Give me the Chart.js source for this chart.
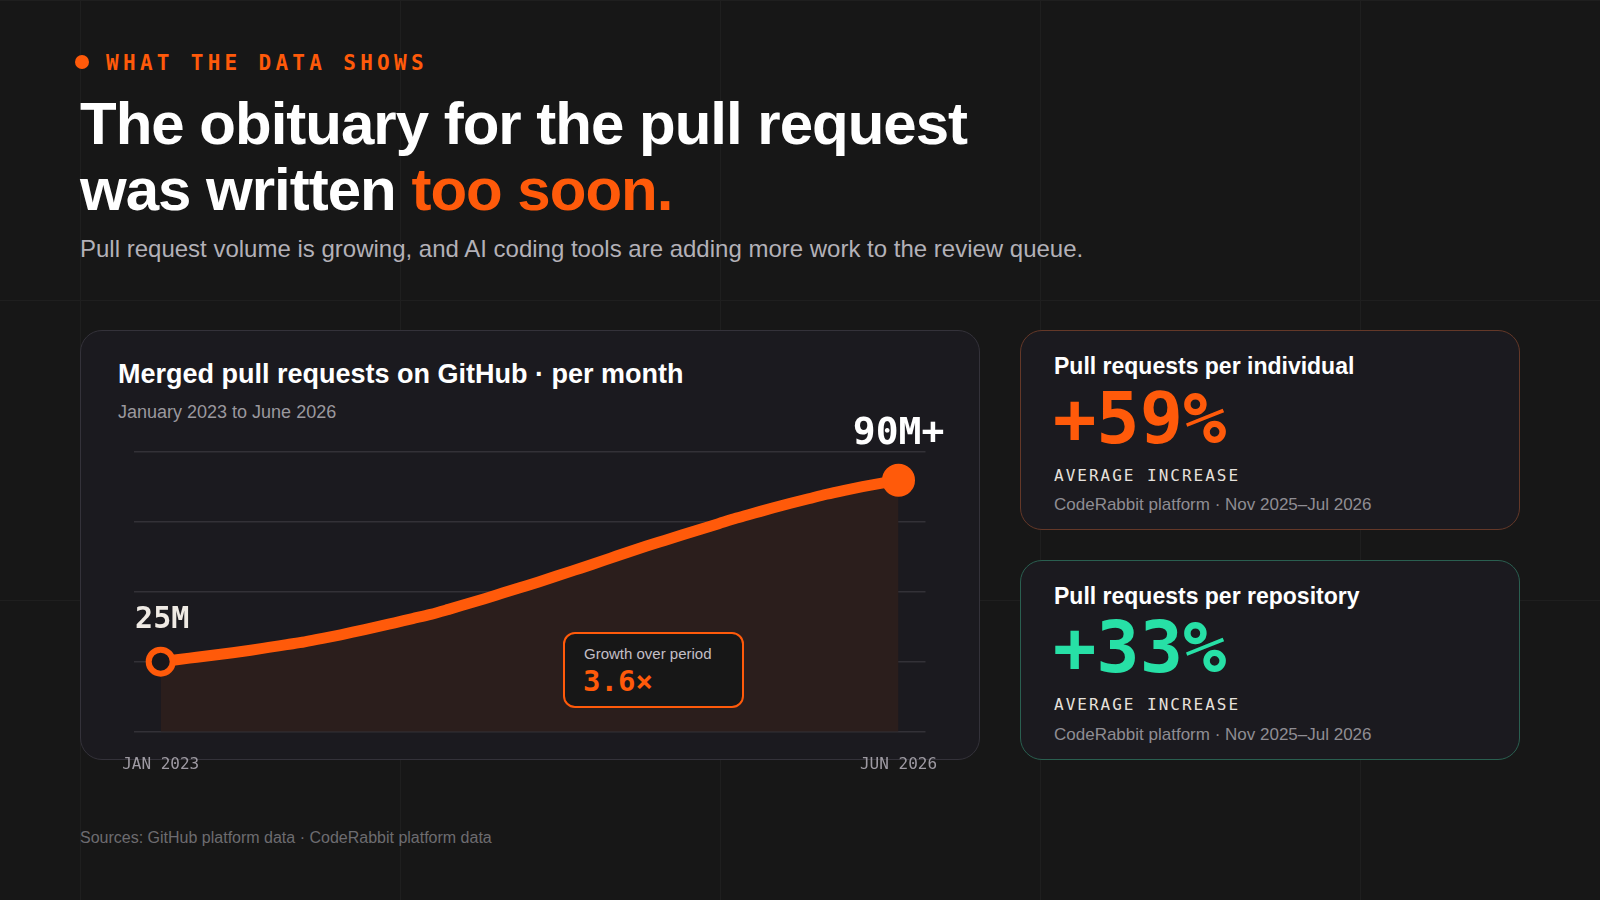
<!DOCTYPE html>
<html lang="en">
<head>
<meta charset="utf-8">
<title>The obituary for the pull request</title>
<script src="https://cdn.jsdelivr.net/npm/chart.js@4.4.1/dist/chart.umd.min.js"></script>
<style>
  * { margin: 0; padding: 0; box-sizing: border-box; }
  html, body { width: 1600px; height: 900px; overflow: hidden; }
  body {
    position: relative;
    background-color: #171717;
    background-image:
      linear-gradient(to right, #1f1f1f 1px, transparent 1px),
      linear-gradient(to bottom, #1f1f1f 1px, transparent 1px);
    background-size: 320px 300px;
    background-position: 80px 0;
    font-family: "Liberation Sans", Arial, sans-serif;
    color: #fff;
  }
  .abs { position: absolute; white-space: nowrap; line-height: 1; }
  .mono { font-family: "DejaVu Sans Mono", monospace; }

  .dot { position: absolute; left: 75px; top: 55px; width: 14px; height: 14px; border-radius: 50%; background: #ff5a0a; }
  .eyebrow { left: 106px; top: 53px; font-size: 21px; font-weight: bold; letter-spacing: 4.3px; color: #ff5a0a; }
  h1 { position: absolute; left: 80px; top: 90.5px; font-size: 60px; line-height: 66px; font-weight: bold; letter-spacing: -1px; white-space: nowrap; }
  h1 span { color: #ff5a0a; }
  .lead { left: 80px; top: 237.4px; font-size: 24px; color: #b3b1b8; }

  .card { position: absolute; background: #1b1a1f; border-radius: 22px; }
  .card-chart { left: 80px; top: 330px; width: 900px; height: 430px; border: 1.5px solid #34323a; }
  .card-ind { left: 1020px; top: 330px; width: 500px; height: 200px; border: 1.5px solid #643828; }
  .card-repo { left: 1020px; top: 560px; width: 500px; height: 200px; border: 1.5px solid #2a5f50; }

  .card-title { font-size: 27px; font-weight: bold; }
  .card-sub { font-size: 18px; color: #9a989e; }
  .stat-title { font-size: 23px; font-weight: bold; }
  .stat-big { font-size: 72px; font-weight: bold; }
  .stat-label { font-size: 16px; letter-spacing: 2px; color: #e6e1dc; }
  .stat-src { font-size: 17px; color: #8f8d93; }

  .growth { position: absolute; left: 563px; top: 632px; width: 181px; height: 76px; border: 2px solid #ff5a0a; border-radius: 12px; background: #171717; }
  .growth-label { left: 584px; top: 646.3px; font-size: 15px; color: #c3bfc6; }
  .growth-value { left: 583px; top: 667px; font-size: 29px; font-weight: bold; color: #ff5a0a; }

  #prChart { position: absolute; left: 100px; top: 390px; }
  .footer { left: 80px; top: 830px; font-size: 16px; color: #6d6c70; }
</style>
</head>
<body>

<div class="dot"></div>
<div class="abs mono eyebrow">WHAT THE DATA SHOWS</div>
<h1>The obituary for the pull request<br>was written <span>too soon.</span></h1>
<div class="abs lead">Pull request volume is growing, and AI coding tools are adding more work to the review queue.</div>

<div class="card card-chart"></div>
<div class="abs card-title" style="left:118px; top:360.5px;">Merged pull requests on GitHub · per month</div>
<div class="abs card-sub" style="left:118px; top:403px;">January 2023 to June 2026</div>

<canvas id="prChart" width="860" height="400"></canvas>

<div class="growth"></div>
<div class="abs growth-label">Growth over period</div>
<div class="abs mono growth-value">3.6×</div>

<div class="card card-ind"></div>
<div class="abs stat-title" style="left:1054px; top:354.5px;">Pull requests per individual</div>
<div class="abs mono stat-big" style="left:1053px; top:382.4px; color:#ff5a0a;">+59%</div>
<div class="abs mono stat-label" style="left:1054px; top:467.5px;">AVERAGE INCREASE</div>
<div class="abs stat-src" style="left:1054px; top:495.6px;">CodeRabbit platform · Nov 2025–Jul 2026</div>

<div class="card card-repo"></div>
<div class="abs stat-title" style="left:1054px; top:584.8px;">Pull requests per repository</div>
<div class="abs mono stat-big" style="left:1053px; top:611.4px; color:#27e0a6;">+33%</div>
<div class="abs mono stat-label" style="left:1054px; top:697.2px;">AVERAGE INCREASE</div>
<div class="abs stat-src" style="left:1054px; top:725.6px;">CodeRabbit platform · Nov 2025–Jul 2026</div>

<div class="abs footer">Sources: GitHub platform data · CodeRabbit platform data</div>

<script>
/* =====================================
   DATA
======================================== */

// months, Jan 2023 to Jun 2026
const months = [
  "JAN 2023", "FEB 2023", "MAR 2023", "APR 2023", "MAY 2023", "JUN 2023",
  "JUL 2023", "AUG 2023", "SEP 2023", "OCT 2023", "NOV 2023", "DEC 2023",
  "JAN 2024", "FEB 2024", "MAR 2024", "APR 2024", "MAY 2024", "JUN 2024",
  "JUL 2024", "AUG 2024", "SEP 2024", "OCT 2024", "NOV 2024", "DEC 2024",
  "JAN 2025", "FEB 2025", "MAR 2025", "APR 2025", "MAY 2025", "JUN 2025",
  "JUL 2025", "AUG 2025", "SEP 2025", "OCT 2025", "NOV 2025", "DEC 2025",
  "JAN 2026", "FEB 2026", "MAR 2026", "APR 2026", "MAY 2026", "JUN 2026"
];

// merged pull requests per month, millions
const mergedPRs = [
  25.0, 25.8, 26.6, 27.4, 28.2, 29.1, 30.1, 31.1, 32.1, 33.3, 34.6, 36.0,
  37.4, 38.9, 40.4, 41.9, 43.7, 45.6, 47.5, 49.5, 51.5, 53.5, 55.6, 57.7,
  59.8, 62.0, 64.2, 66.3, 68.3, 70.3, 72.3, 74.3, 76.3, 78.1, 79.9, 81.6,
  83.2, 84.8, 86.2, 87.5, 88.7, 89.8
];

const yTicks = [0, 25, 50, 75, 100];
const xTickMonths = [0, months.length - 1];
const endLabels = ["25M", "90M+"];

const orange = "#ff5a0a";

/* =====================================
   CHART
======================================== */

const lastIndex = mergedPRs.length - 1;

// labels above first and last point
const endLabelPlugin = {
  id: "endLabels",
  afterDatasetsDraw(chart) {
    const meta = chart.getDatasetMeta(0);
    const first = meta.data[0];
    const last = meta.data[lastIndex];
    const ctx = chart.ctx;
    ctx.save();
    ctx.textAlign = "center";
    ctx.textBaseline = "alphabetic";
    ctx.fillStyle = "#efeae4";
    ctx.font = "bold 30px 'DejaVu Sans Mono'";
    ctx.fillText(endLabels[0], first.x + 1.5, first.y - 33.5);
    ctx.fillStyle = "#ffffff";
    ctx.font = "bold 38px 'DejaVu Sans Mono'";
    ctx.fillText(endLabels[1], last.x, last.y - 36.5);
    ctx.restore();
  }
};

const prCanvas = document.getElementById("prChart");

const prChart = new Chart(prCanvas, {
  type: "line",
  data: {
    datasets: [{
      data: mergedPRs.map((v, i) => ({ x: i, y: v })),
      borderColor: orange,
      borderWidth: 11,
      borderCapStyle: "round",
      borderJoinStyle: "round",
      cubicInterpolationMode: "monotone",
      fill: "origin",
      backgroundColor: "#2b1e1c",
      pointRadius: ctx => ctx.dataIndex === 0 ? 12 : (ctx.dataIndex === lastIndex ? 15 : 0),
      pointHoverRadius: ctx => ctx.dataIndex === 0 ? 12 : (ctx.dataIndex === lastIndex ? 15 : 0),
      pointBorderWidth: ctx => ctx.dataIndex === 0 ? 6 : 3,
      pointBorderColor: orange,
      pointBackgroundColor: ctx => ctx.dataIndex === 0 ? "#18171b" : orange,
      clip: false
    }]
  },
  options: {
    responsive: false,
    devicePixelRatio: 1,
    animation: false,
    events: [],
    layout: {
      padding: { left: 33.7, right: 34.5, top: 61.7, bottom: 0 }
    },
    scales: {
      x: {
        type: "linear",
        min: -1.5,
        max: 42.5,
        grid: { display: false },
        border: { display: false },
        afterBuildTicks: scale => {
          scale.ticks = xTickMonths.map(v => ({ value: v }));
        },
        afterFit: scale => {
          scale.height = 58.3;
          scale.paddingLeft = 0;
          scale.paddingRight = 0;
        },
        ticks: {
          maxRotation: 0,
          autoSkip: false,
          padding: 16,
          color: "#9e9aa2",
          font: { family: "DejaVu Sans Mono", size: 16 },
          callback: value => months[value]
        }
      },
      y: {
        min: 0,
        max: 100,
        afterBuildTicks: scale => {
          scale.ticks = yTicks.map(v => ({ value: v }));
        },
        afterFit: scale => { scale.width = 0; },
        grid: { color: "#333137", lineWidth: 1.5, drawTicks: false },
        border: { display: false },
        ticks: { display: false }
      }
    },
    plugins: {
      legend: { display: false },
      tooltip: { enabled: false }
    }
  },
  plugins: [endLabelPlugin]
});
</script>
</body>
</html>
